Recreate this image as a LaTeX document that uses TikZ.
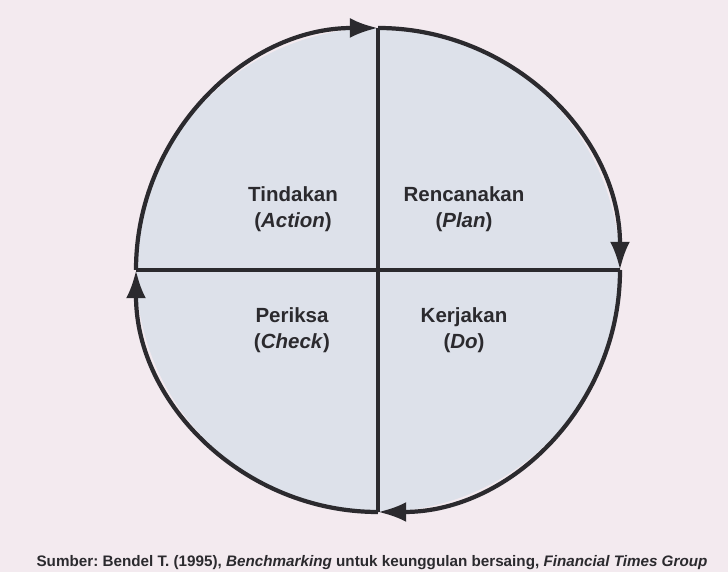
\documentclass[tikz,border=0pt]{standalone}
\usepackage{fontspec}
\setmainfont{Liberation Sans}
\usetikzlibrary{arrows.meta}
\frenchspacing
\definecolor{paper}{HTML}{F3EAEF}
\definecolor{disc}{HTML}{DDE1EA}
\definecolor{ink}{HTML}{2B2A2E}
\tikzset{
	rim/.style={ink, line width=3.6pt, -{Latex[length=24pt,width=17pt]}, shorten >=0pt},
	cross/.style={ink, line width=3.2pt},
	quad/.style={align=center, font=\fontsize{17.5}{22}\selectfont\bfseries, text=ink}
}

\begin{document}
\begin{tikzpicture}[x=0.03cm,y=0.03cm]
		\fill[paper] (0,0) rectangle (728,572);
		\useasboundingbox (0,0) rectangle (728,572);

		\coordinate (O) at (378,302);
		\coordinate (T) at (378,544);
		\coordinate (R) at (620,302);
		\coordinate (B) at (378,60);
		\coordinate (L) at (136,302);

		\fill[disc] (O) circle[radius=242];
		\draw[cross] (T) -- (B);
		\draw[cross] (L) -- (R);

		% four quarters, clockwise
		\draw[rim] (L) arc[start angle=180, end angle=90, radius=242];
		\draw[rim] (T) arc[start angle=90, end angle=0, radius=242];
		\draw[rim] (R) arc[start angle=0, end angle=-90, radius=242];
		\draw[rim] (B) arc[start angle=270, end angle=180, radius=242];

		\node[quad] (act) at (293,363) {Tindakan\\(\textit{Action})};
		\node[quad] (plan) at (464,363) {Rencanakan\\(\textit{Plan})};
		\node[quad] (chk) at (292,242) {Periksa\\(\textit{Check})};
		\node[quad] (do) at (464,242) {Kerjakan\\(\textit{Do})};

		\node[font=\fontsize{13}{15}\selectfont\bfseries, text=ink] (src) at (372,9)
			{Sumber: Bendel T. (1995), \textit{Benchmarking} untuk keunggulan bersaing, \textit{Financial Times Group}};
	\end{tikzpicture}
\end{document}
